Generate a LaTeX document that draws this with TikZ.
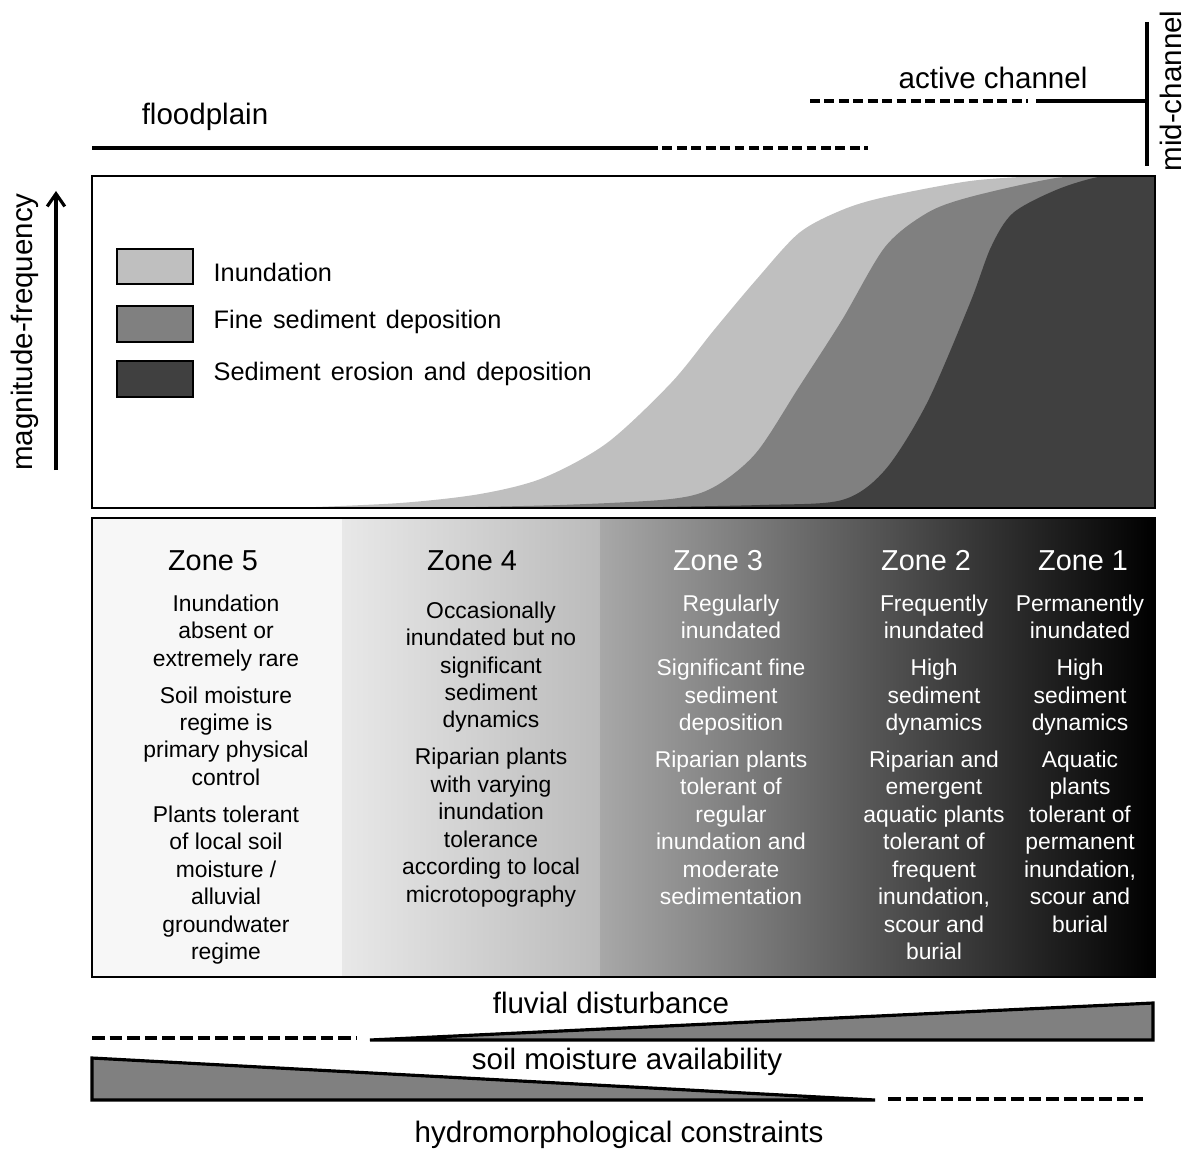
\documentclass[tikz,border=0pt]{standalone}
\usepackage{fontspec}
\setmainfont{Liberation Sans}
\usetikzlibrary{arrows.meta}
\definecolor{inund}{HTML}{BFBFBF}
\definecolor{finesed}{HTML}{808080}
\definecolor{erosed}{HTML}{404040}
\definecolor{zonefive}{HTML}{F7F7F7}
\definecolor{zonefourl}{HTML}{E8E8E8}
\definecolor{zonefourr}{HTML}{BBBBBB}
\definecolor{zonethreel}{HTML}{A8A8A8}
\begin{document}
\begin{tikzpicture}[x=0.01cm,y=-0.01cm,
    label/.style={font=\fontsize{8.4}{10}\selectfont,inner sep=0pt},
    zonetitle/.style={font=\fontsize{8.2}{10}\selectfont,inner sep=0pt},
    zonetext/.style={font=\fontsize{6.5}{7.8}\selectfont,align=center,anchor=north,inner sep=0pt},
    legendbox/.style={draw,line width=0.6pt},
    legendtext/.style={font=\fontsize{7.2}{9}\selectfont,execute at begin node={\spaceskip=0.4em\relax},
        anchor=west,inner sep=0pt},
    boxline/.style={line width=0.7pt},
    thickline/.style={line width=0.9pt},
    dashline/.style={line width=0.9pt,dash pattern=on 2.8pt off 1.3pt},
    dashlinelow/.style={line width=0.9pt,dash pattern=on 3.6pt off 1.4pt},
    wedge/.style={fill=finesed,draw,line width=0.9pt}]

    \useasboundingbox (0,0) rectangle (1186,1149);

    % spatial extent along the top
    \node[label] (floodplain) at (205,117) {floodplain};
    \draw[thickline] (92,148) -- (648,148);
    \draw[dashline] (648,148) -- (868,148);
    \node[label] (active) at (993,78) {active channel};
    \draw[dashline] (810,101) -- (1028,101);
    \draw[thickline] (1036,101) -- (1147,101);
    \draw[thickline] (1147,22) -- (1147,166);
    \node[label,rotate=90] (midchannel) at (1171,91) {mid-channel};

    % magnitude-frequency axis
    \node[label,rotate=90] (magfreq) at (25,332) {magnitude-frequency};
    \coordinate (mfbase) at (56,470);
    \coordinate (mftip) at (56,191);
    \draw[thickline,-{Straight Barb[length=3.6pt,width=5pt]}] (mfbase) -- (mftip);

    % process curves
    \begin{scope}
        \clip (92,176) rectangle (1155,508);
        \fill[inund] plot[smooth] coordinates {(290,508) (400,503) (480,494) (543,478) (607,443)
            (671,383) (714,330) (756,280) (799,233) (842,210) (885,197) (970,181) (1040,176)}
            -- (1155,176) -- (1155,508) -- cycle;
        \fill[finesed] plot[smooth] coordinates {(420,508) (560,505) (671,499) (714,487) (756,453)
            (799,387) (842,320) (885,247) (927,213) (970,197) (1056,178) (1110,176)}
            -- (1155,176) -- (1155,508) -- cycle;
        \fill[erosed] plot[smooth] coordinates {(600,508) (760,505) (842,500) (885,470) (927,403)
            (970,303) (991,247) (1013,213) (1056,190) (1098,177) (1130,176)}
            -- (1155,176) -- (1155,508) -- cycle;
    \end{scope}
    \draw[boxline] (92,176) rectangle (1155,508);

    % legend
    \draw[legendbox,fill=inund] (117,249) rectangle (193,284);
    \node[legendtext] (leginund) at (213,272) {Inundation};
    \draw[legendbox,fill=finesed] (117,306) rectangle (193,342);
    \node[legendtext] (legfine) at (213,322) {Fine sediment deposition};
    \draw[legendbox,fill=erosed] (117,361) rectangle (193,397);
    \node[legendtext] (legerosion) at (213,374) {Sediment erosion and deposition};

    % zones
    \fill[zonefive] (92,518) rectangle (342,977);
    \shade[left color=zonefourl,right color=zonefourr] (342,518) rectangle (600,977);
    \shade[left color=zonethreel,right color=black] (600,518) rectangle (1155,977);
    \draw[boxline] (92,518) rectangle (1155,977);

    \node[zonetitle] (zfive) at (213,561) {Zone 5};
    \node[zonetitle] (zfour) at (472,561) {Zone 4};
    \node[zonetitle,white] (zthree) at (718,561) {Zone 3};
    \node[zonetitle,white] (ztwo) at (926,561) {Zone 2};
    \node[zonetitle,white] (zone) at (1083,561) {Zone 1};

    \node[zonetext] (zfivetext) at (226,594) {Inundation\\absent or\\extremely rare\\[2.7pt]
        Soil moisture\\regime is\\primary physical\\control\\[2.7pt]
        Plants tolerant\\of local soil\\moisture /\\alluvial\\groundwater\\regime};
    \node[zonetext] (zfourtext) at (491,601) {Occasionally\\inundated but no\\significant\\sediment\\dynamics\\[2.7pt]
        Riparian plants\\with varying\\inundation\\tolerance\\according to local\\microtopography};
    \node[zonetext,white] (zthreetext) at (731,594) {Regularly\\inundated\\[2.7pt]
        Significant fine\\sediment\\deposition\\[2.7pt]
        Riparian plants\\tolerant of\\regular\\inundation and\\moderate\\sedimentation};
    \node[zonetext,white] (ztwotext) at (934,594) {Frequently\\inundated\\[2.7pt]
        High\\sediment\\dynamics\\[2.7pt]
        Riparian and\\emergent\\aquatic plants\\tolerant of\\frequent\\inundation,\\scour and\\burial};
    \node[zonetext,white] (zonetext) at (1080,594) {Permanently\\inundated\\[2.7pt]
        High\\sediment\\dynamics\\[2.7pt]
        Aquatic\\plants\\tolerant of\\permanent\\inundation,\\scour and\\burial};

    % gradients below
    \node[label] (fluvial) at (611,1003) {fluvial disturbance};
    \draw[dashlinelow] (92,1038) -- (357,1038);
    \draw[wedge] (370,1040) -- (1153,1040) -- (1153,1003) -- cycle;
    \node[label] (soil) at (627,1062) {soil moisture availability};
    \draw[wedge] (92,1058) -- (92,1100) -- (875,1100) -- cycle;
    \draw[dashlinelow] (888,1099) -- (1143,1099);
    \node[label] (hydro) at (619,1135) {hydromorphological constraints};
\end{tikzpicture}
\end{document}
